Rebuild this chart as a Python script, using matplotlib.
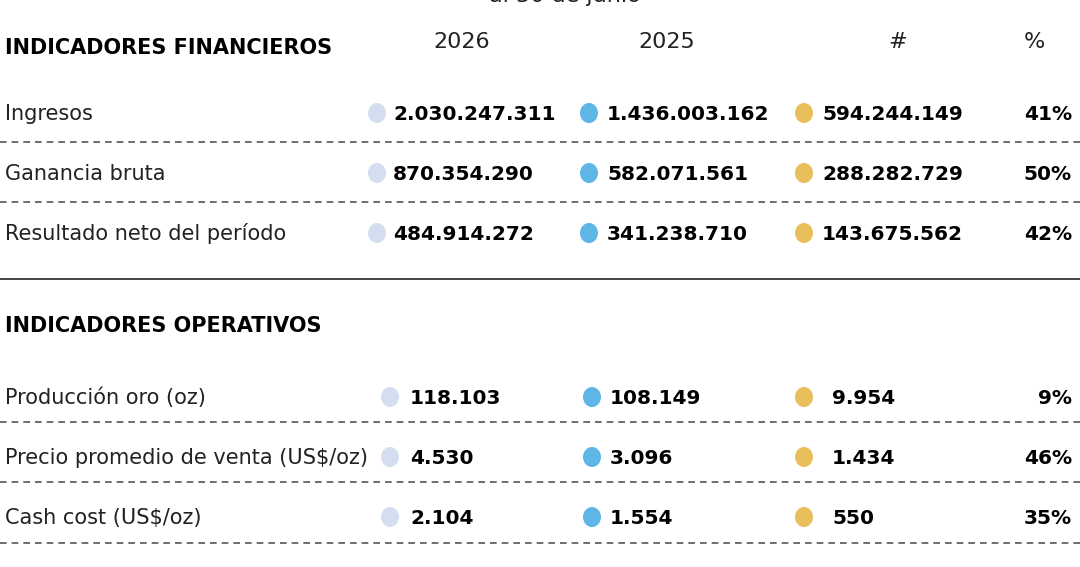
import matplotlib.pyplot as plt
from matplotlib.lines import Line2D
from matplotlib.patches import Ellipse

plt.rcParams['font.family'] = ['Liberation Sans Narrow', 'DejaVu Sans']

fin_labels = ['Ingresos', 'Ganancia bruta', 'Resultado neto del período']
fin_2026 = ['2.030.247.311', '870.354.290', '484.914.272']
fin_2025 = ['1.436.003.162', '582.071.561', '341.238.710']
fin_diff = ['594.244.149', '288.282.729', '143.675.562']
fin_pct = ['41%', '50%', '42%']

op_labels = ['Producción oro (oz)', 'Precio promedio de venta (US$/oz)', 'Cash cost (US$/oz)']
op_2026 = ['118.103', '4.530', '2.104']
op_2025 = ['108.149', '3.096', '1.554']
op_diff = ['9.954', '1.434', '550']
op_pct = ['9%', '46%', '35%']

headers = ['2026', '2025', '#', '%']
colors = ['#d3dff1', '#5db6e6', '#e8bf5a']

W, H = 1080, 567
fig = plt.figure(figsize=(W / 100, H / 100), dpi=100)
ax = fig.add_axes([0, 0, 1, 1])
ax.set_xlim(0, W)
ax.set_ylim(H, 0)
ax.axis('off')

ax.text(565, -4, 'al 30 de junio', fontsize=16, color='#222', ha='center', va='center')
ax.text(5, 48, 'INDICADORES FINANCIEROS', fontsize=15, fontweight='bold', va='center')
for h, x in zip(headers, [462, 667, 898, 1034]):
    ax.text(x, 42, h, fontsize=16, color='#222', ha='center', va='center')


def rows(labels, c1, c2, c3, pct, ys, dots, texts, dashes):
    for i, y in enumerate(ys):
        ax.text(5, y, labels[i], fontsize=15, color='#222', va='center')
        for col, (dx, tx) in enumerate(zip(dots, texts)):
            ax.add_patch(Ellipse((dx, y - 1), 18, 20, color=colors[col], lw=0))
            ax.text(tx, y, [c1, c2, c3][col][i], fontsize=14.5, fontweight='bold', va='center')
        ax.text(1072, y, pct[i], fontsize=14.5, fontweight='bold', ha='right', va='center')
    for d in dashes:
        ax.add_line(Line2D([0, W], [d, d], color='#555', lw=1.2, ls=(0, (4, 3))))


rows(fin_labels, fin_2026, fin_2025, fin_diff, fin_pct, [114, 174, 234],
     [377, 589, 804], [393, 607, 822], [142, 202])
ax.add_line(Line2D([0, W], [279, 279], color='#222', lw=1.2))
ax.text(5, 326, 'INDICADORES OPERATIVOS', fontsize=15, fontweight='bold', va='center')
rows(op_labels, op_2026, op_2025, op_diff, op_pct, [398, 458, 518],
     [390, 592, 804], [410, 610, 832], [422, 482, 543])

fig.savefig('out.png', dpi=100)
